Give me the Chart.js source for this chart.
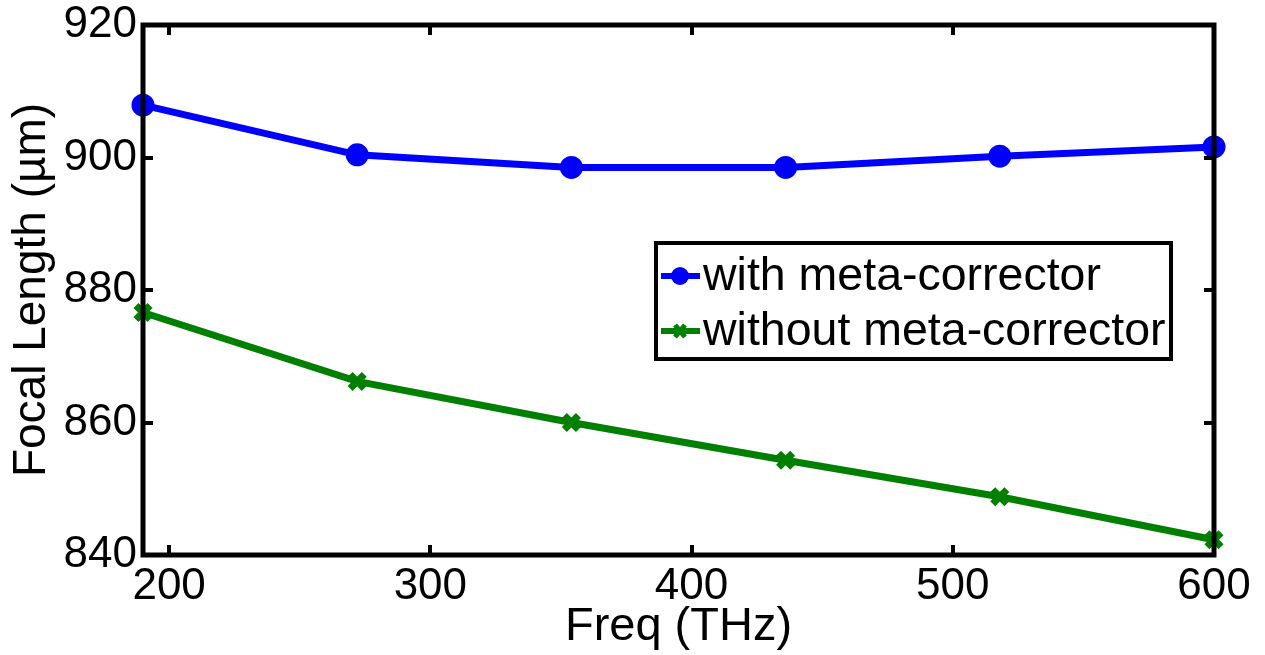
<!DOCTYPE html>
<html>
<head>
<meta charset="utf-8">
<script src="https://cdn.jsdelivr.net/npm/chart.js@4.4.1/dist/chart.umd.min.js"></script>
<style>
  html, body { margin: 0; padding: 0; background: #fff; }
  #wrap { width: 1265px; height: 655px; }
</style>
</head>
<body>
<div id="wrap"><canvas id="c" width="1265" height="655"></canvas></div>
<script>
// Focal length vs. frequency, with and without the meta-corrector
const freqTHz = [190, 272, 354, 436, 518, 600];
const withCorrector = [907.9, 900.4, 898.5, 898.5, 900.2, 901.6];
const withoutCorrector = [876.6, 866.2, 860.0, 854.3, 848.8, 842.3];
const xTicks = [200, 300, 400, 500, 600];
const yTicks = [840, 860, 880, 900, 920];
const seriesLabels = ['with meta-corrector', 'without meta-corrector'];
const xTitle = 'Freq (THz)';
const yTitle = 'Focal Length (\u00b5m)';

const FONT = "'Liberation Sans', Arial, sans-serif";
const BLUE = '#0000ff';
const GREEN = '#008000';

const toPoints = (ys) => freqTHz.map((x, i) => ({ x, y: ys[i] }));

// Box frame with inward ticks on all four sides, drawn over the lines
const framePlugin = {
  id: 'frame',
  afterDatasetsDraw(chart) {
    const { ctx, chartArea: a, scales } = chart;
    ctx.save();
    ctx.strokeStyle = '#000';
    ctx.lineWidth = 5;
    ctx.lineCap = 'square';
    ctx.strokeRect(a.left, a.top, a.right - a.left, a.bottom - a.top);
    ctx.lineWidth = 4;
    ctx.lineCap = 'butt';
    const len = 10;
    xTicks.forEach(v => {
      const px = Math.round(scales.x.getPixelForValue(v));
      ctx.beginPath();
      ctx.moveTo(px, a.bottom); ctx.lineTo(px, a.bottom - len);
      ctx.moveTo(px, a.top); ctx.lineTo(px, a.top + len);
      ctx.stroke();
    });
    yTicks.forEach(v => {
      const py = Math.round(scales.y.getPixelForValue(v));
      ctx.beginPath();
      ctx.moveTo(a.left, py); ctx.lineTo(a.left + len, py);
      ctx.moveTo(a.right, py); ctx.lineTo(a.right - len, py);
      ctx.stroke();
    });
    ctx.restore();
  }
};

// Boxed legend inside the plot area
const boxLegendPlugin = {
  id: 'boxLegend',
  afterDraw(chart) {
    const { ctx } = chart;
    const bx = 656, by = 243, bw = 515, bh = 116;
    const rows = [276, 331];
    ctx.save();
    ctx.fillStyle = '#fff';
    ctx.fillRect(bx, by, bw, bh);
    ctx.strokeStyle = '#000';
    ctx.lineWidth = 4;
    ctx.strokeRect(bx, by, bw, bh);
    chart.data.datasets.forEach((ds, i) => {
      const y = rows[i];
      ctx.strokeStyle = ds.borderColor;
      ctx.lineWidth = 6;
      ctx.beginPath();
      ctx.moveTo(661, y); ctx.lineTo(700, y);
      ctx.stroke();
      if (i === 0) {
        ctx.fillStyle = ds.borderColor;
        ctx.beginPath();
        ctx.arc(680, y, 9, 0, Math.PI * 2);
        ctx.fill();
      } else {
        ctx.lineWidth = 5;
        ctx.beginPath();
        ctx.moveTo(675, y - 6); ctx.lineTo(685, y + 6);
        ctx.moveTo(675, y + 6); ctx.lineTo(685, y - 6);
        ctx.stroke();
      }
      ctx.fillStyle = '#000';
      ctx.font = '46.5px ' + FONT;
      ctx.textBaseline = 'middle';
      ctx.textAlign = 'left';
      ctx.fillText(ds.label, 703, y + 1);
    });
    ctx.restore();
  }
};

new Chart(document.getElementById('c'), {
  type: 'line',
  data: {
    datasets: [
      {
        label: seriesLabels[0],
        data: toPoints(withCorrector),
        borderColor: BLUE,
        backgroundColor: BLUE,
        borderWidth: 7,
        pointStyle: 'circle',
        pointRadius: 9,
        pointBorderWidth: 5,
        pointBackgroundColor: BLUE,
        pointBorderColor: BLUE,
        tension: 0,
        clip: false
      },
      {
        label: seriesLabels[1],
        data: toPoints(withoutCorrector),
        borderColor: GREEN,
        backgroundColor: GREEN,
        borderWidth: 7,
        pointStyle: 'crossRot',
        pointRadius: 10,
        pointBorderWidth: 7,
        pointBorderColor: GREEN,
        tension: 0,
        clip: false
      }
    ]
  },
  options: {
    responsive: false,
    animation: false,
    devicePixelRatio: 1,
    layout: { padding: { top: 25, right: 51, left: 0, bottom: 0 } },
    plugins: { legend: { display: false }, tooltip: { enabled: false } },
    scales: {
      x: {
        type: 'linear',
        position: 'bottom',
        min: 190,
        max: 600,
        afterBuildTicks: (s) => { s.ticks = xTicks.map(v => ({ value: v })); },
        afterFit: (s) => { s.height = 100; },
        grid: { display: false, drawTicks: false },
        border: { display: false },
        ticks: { color: '#000', font: { size: 44, family: FONT, lineHeight: 1.0 }, padding: 10, maxRotation: 0 },
        title: { display: true, text: xTitle, color: '#000', font: { size: 47, family: FONT }, padding: { top: 0, bottom: 0 } }
      },
      y: {
        type: 'linear',
        min: 840,
        max: 920,
        afterBuildTicks: (s) => { s.ticks = yTicks.map(v => ({ value: v })); },
        afterFit: (s) => { s.width = 143; },
        grid: { display: false, drawTicks: false },
        border: { display: false },
        ticks: { color: '#000', font: { size: 44, family: FONT, lineHeight: 0.8 }, padding: 6 },
        title: { display: true, text: yTitle, color: '#000', font: { size: 46, family: FONT }, padding: { top: 5, bottom: 0 } }
      }
    }
  },
  plugins: [framePlugin, boxLegendPlugin]
});
</script>
</body>
</html>
